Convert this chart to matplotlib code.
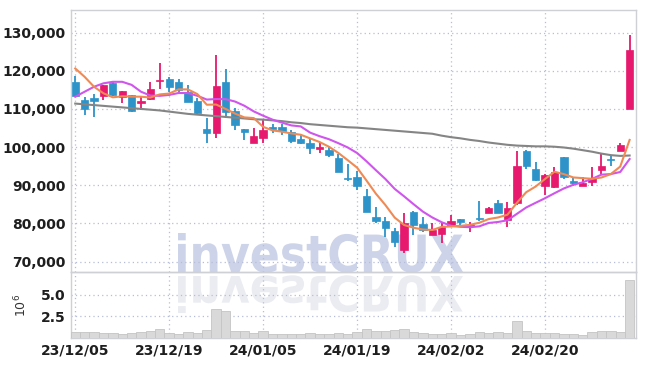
import numpy as np
import pandas as pd
import matplotlib
matplotlib.use("Agg")
import matplotlib.pyplot as plt
from matplotlib import font_manager
from matplotlib.textpath import TextPath
from matplotlib.patches import PathPatch
from matplotlib.font_manager import FontProperties
from matplotlib.transforms import Affine2D, IdentityTransform
from matplotlib.ticker import FuncFormatter, FixedLocator

# ---------------- data ----------------
opens  = [117100, 112300, 112900, 113500, 116900, 113000, 113600, 111500, 112700, 117300,
          117800, 117100, 114500, 112100, 104700, 103800, 117100, 109400, 104700, 101200,
          102300, 105200, 105200, 103900, 102100, 101000, 99500, 99300, 97200, 92000,
          92200, 87200, 81800, 80600, 78000, 73100, 83100, 79800, 77000, 77200,
          79300, 81200, 79300, 81500, 82800, 85400, 80900, 85300, 99000, 94300,
          89900, 89600, 97500, 91100, 89900, 90900, 94000, 97000, 99000, 110000]
highs  = [118500, 113200, 113800, 116300, 117100, 114800, 113700, 113200, 117000, 121900,
          118300, 117800, 116200, 112800, 107500, 124100, 120400, 110200, 104800, 104900,
          107300, 106000, 106000, 104500, 103500, 102300, 101400, 100300, 98100, 95500,
          93800, 89000, 84400, 81600, 78700, 82700, 83400, 81800, 80000, 80000,
          82200, 81300, 80500, 85900, 84200, 86100, 85500, 99100, 99200, 96000,
          92900, 94700, 97500, 92250, 92100, 94900, 98100, 97900, 101200, 129400]
lows   = [113000, 108400, 108000, 112300, 113400, 111600, 109100, 109700, 112300, 115100,
          114500, 114400, 111700, 108600, 101000, 102300, 107500, 104600, 101900, 101000,
          101100, 103700, 103300, 101200, 100800, 98100, 98500, 97500, 93400, 91100,
          88800, 83000, 80200, 76500, 73900, 72400, 77000, 77900, 76900, 75000,
          79200, 79200, 77850, 80700, 82700, 82700, 79200, 84900, 94300, 91000,
          87500, 89400, 91600, 89800, 89900, 89900, 93000, 95100, 98900, 110000]
closes = [113400, 109900, 112100, 116200, 113600, 114700, 109500, 112000, 115100, 117700,
          115800, 115000, 111900, 109000, 103800, 116000, 109300, 105800, 104000, 102900,
          104500, 104700, 104100, 101700, 101200, 99700, 100000, 97900, 93600, 91700,
          89900, 83100, 80700, 78900, 75100, 80200, 79600, 78300, 78300, 79200,
          80700, 80400, 79600, 81100, 84000, 82800, 84000, 95100, 95100, 91400,
          92700, 93400, 92100, 90700, 90500, 91800, 95100, 96600, 100500, 125400]
volumes_m = [0.66, 0.66, 0.66, 0.55, 0.55, 0.44, 0.55, 0.66, 0.77, 0.99,
             0.55, 0.44, 0.66, 0.55, 0.88, 3.31, 3.09, 0.81, 0.81, 0.55,
             0.81, 0.44, 0.44, 0.44, 0.44, 0.55, 0.44, 0.44, 0.55, 0.44,
             0.66, 0.99, 0.81, 0.81, 0.92, 0.99, 0.66, 0.55, 0.44, 0.44,
             0.55, 0.33, 0.44, 0.66, 0.55, 0.66, 0.55, 1.99, 0.77, 0.55,
             0.55, 0.55, 0.44, 0.44, 0.33, 0.66, 0.77, 0.77, 0.66, 6.73]
# moving-average values before enough candles are shown
ma5_head = [120600, 118400, 115800, 114100]
ma10_head = [113200, 114500, 115800, 116700, 117100, 117100, 116300, 114500, 113500]
# long moving average (grey)
ma_long = [111400, 111200, 111000, 110800, 110600, 110400, 110200, 110000, 109800, 109600,
           109300, 109000, 108700, 108500, 108300, 108100, 107900, 107700, 107500, 107300,
           107200, 107000, 106800, 106500, 106300, 106000, 105800, 105600, 105400, 105200,
           105100, 104900, 104700, 104500, 104300, 104100, 103900, 103700, 103500, 103000,
           102600, 102300, 101900, 101600, 101200, 100900, 100600, 100400, 100300, 100200,
           100200, 100100, 99900, 99600, 99200, 98800, 98300, 97900, 97700, 97800]
tick_idx = [0, 10, 20, 30, 40, 50]
tick_labels = ['23/12/05', '23/12/19', '24/01/05', '24/01/19', '24/02/02', '24/02/20']
price_ticks = [70000, 80000, 90000, 100000, 110000, 120000, 130000]
vol_ticks = [2.5, 5.0]

# ---------------- styling ----------------
names = {f.name for f in font_manager.fontManager.ttflist}
lab_font = 'Liberation Sans Narrow' if 'Liberation Sans Narrow' in names else 'DejaVu Sans'

UP = '#e6196e'
DOWN = '#2d93c9'
GRID = '#b7bdd6'
SPINE = '#cfcfd6'

o = np.array(opens, float); h = np.array(highs, float)
l = np.array(lows, float); c = np.array(closes, float)
x = np.arange(len(c))
cs = pd.Series(c)
ma5 = cs.rolling(5).mean().to_numpy()
ma5[:len(ma5_head)] = ma5_head
ma10 = cs.rolling(10).mean().to_numpy()
ma10[:len(ma10_head)] = ma10_head

fig = plt.figure(figsize=(6.45, 3.66), dpi=100, facecolor='white')
W, H = 645, 366
ax = fig.add_axes([71 / W, 1 - 272 / H, (636 - 71) / W, (272 - 10) / H])
axv = fig.add_axes([71 / W, 1 - 338 / H, (636 - 71) / W, (338 - 272) / H], sharex=ax)
for a in (ax, axv):
    a.set_facecolor('none')
    for s in a.spines.values():
        s.set_color(SPINE)
        s.set_linewidth(1.0)
    a.grid(True, color=GRID, linestyle=(0, (1, 2.5)), linewidth=0.9)
    a.tick_params(length=0, labelsize=10, colors='#1e1e1e', pad=4)

# watermark with reflection (behind axes content)
fp = FontProperties(family='DejaVu Sans', weight='bold')
tp = TextPath((0, 0), 'investCRUX', size=1, prop=fp)
bb = tp.get_extents()
sx = (463 - 178) / bb.width
sy = 39 / bb.y1
base_y = H - 272
tr = Affine2D().translate(-bb.x0, 0).scale(sx, sy).translate(178, base_y)
fig.patches.append(PathPatch(tr.transform_path(tp), facecolor='#cdd3e8', edgecolor='none',
                             transform=IdentityTransform(), zorder=-1, figure=fig))
tr2 = Affine2D().translate(-bb.x0, 0).scale(sx, -sy * 0.95).translate(178, base_y - 4)
fig.patches.append(PathPatch(tr2.transform_path(tp), facecolor='#ebecf2', edgecolor='none',
                             transform=IdentityTransform(), zorder=-1, figure=fig))

# candles
colors = np.where(c >= o, UP, DOWN)
ax.vlines(x, l, h, colors=colors, linewidth=1.3, zorder=3)
body_lo = np.minimum(o, c)
body_h = np.maximum(np.abs(c - o), 250)
ax.bar(x, body_h, bottom=body_lo, width=0.78, color=colors, edgecolor=colors,
       linewidth=0.5, zorder=4)

# moving averages
ax.plot(x, ma_long, color='#858585', lw=1.5, zorder=5)
ax.plot(x, ma10, color='#cf55ec', lw=1.5, zorder=5)
ax.plot(x, ma5, color='#ef8a55', lw=1.5, zorder=6)

ax.set_ylim(67300, 135900)
ax.set_xlim(-0.45, 59.68)
ax.yaxis.set_major_locator(FixedLocator(price_ticks))
ax.yaxis.set_major_formatter(FuncFormatter(lambda v, p: f'{int(v):,}'))
ax.xaxis.set_major_locator(FixedLocator(tick_idx))
plt.setp(ax.get_xticklabels(), visible=False)
for t in ax.get_yticklabels():
    t.set_fontfamily(lab_font)
    t.set_fontweight('bold')

# volume
axv.bar(x, volumes_m, width=1.0, color='#d9d9d9', edgecolor='#c4c4c4', linewidth=0.6, zorder=3)
axv.set_ylim(0, 7.6)
axv.yaxis.set_major_locator(FixedLocator(vol_ticks))
axv.yaxis.set_major_formatter(FuncFormatter(lambda v, p: f'{v:.1f}'))
axv.set_xticks(tick_idx)
axv.set_xticklabels(tick_labels)
for t in axv.get_xticklabels() + axv.get_yticklabels():
    t.set_fontfamily(lab_font)
    t.set_fontweight('bold')
axv.set_ylabel('10$^6$', fontsize=9, color='#333333', labelpad=8)

fig.savefig('out.png', dpi=100, facecolor='white')
